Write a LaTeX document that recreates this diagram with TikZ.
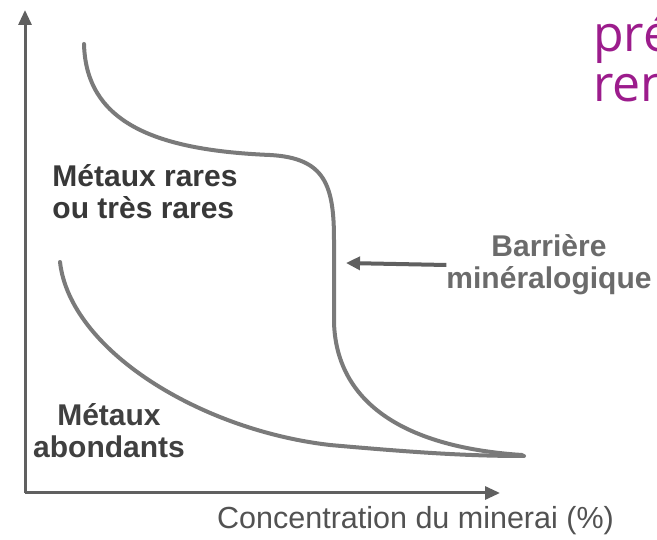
\documentclass[tikz,border=0pt]{standalone}
\usepackage{fontspec}
\setmainfont{Liberation Sans}
\newfontfamily\slidefont{Open Sans}
\usetikzlibrary{positioning,arrows.meta}
\definecolor{curvegray}{HTML}{7A7A7A}
\definecolor{axisgray}{HTML}{606060}
\definecolor{slidepurple}{HTML}{9C1C8C}

\begin{document}
\begin{tikzpicture}[x=1pt, y=-1pt,
	axis/.style={draw=axisgray, line width=3pt, -{Triangle[length=15pt,width=13pt]}},
	curve/.style={draw=curvegray, line width=4pt, line cap=round},
	lbl/.style={inner sep=0pt, align=center, font=\bfseries\fontsize{30}{32}\selectfont},
	pointer/.style={draw=axisgray, line width=4pt, -{Triangle[length=14pt,width=13pt]}}]
	\useasboundingbox[fill=white] (0,0) rectangle (657,540);
	\clip (0,0) rectangle (657,540);
	\coordinate (o) at (25,493);
	\coordinate (ytip) at (25,10);
	\coordinate (xtip) at (500,493);
	\coordinate (bar) at (346,263);
	\draw[axis] (o) -- (ytip);
	\draw[axis] (o) -- (xtip);
	\draw[curve] (84,44) .. controls (86,120) and (150,150) .. (270,155)
		.. controls (325,158) and (334,185) .. (334,240) -- (334,322)
		.. controls (336,400) and (400,447) .. (522,455);
	\draw[curve] (60,262) .. controls (70,350) and (200,430) .. (330,445)
		.. controls (420,453) and (470,456) .. (524,456);
	\node[lbl, align=left, text=black!78] (rares) at (145,192) {Métaux rares\\ou très rares};
	\node[lbl, text=black!58] (barriere) at (549,265) {Barrière\\minéralogique};
	\node[lbl, text=black!75] (abondants) at (109,431) {Métaux\\abondants};
	\node[inner sep=0pt, anchor=west, text=black!68, font=\fontsize{30.5}{32}\selectfont] (xlabel) at (217,521) {Concentration du minerai (\%)};
	\node[inner sep=0pt, anchor=base west, text=slidepurple, font=\slidefont\fontsize{50}{58}\selectfont] (pre) at (593,52) {pré};
	\node[inner sep=0pt, text=slidepurple, font=\slidefont\fontsize{50}{58}\selectfont, below=10pt of pre.south west, anchor=north west] (ren) {ren};
	\draw[pointer] (barriere.west) -- (bar);
\end{tikzpicture}
\end{document}
